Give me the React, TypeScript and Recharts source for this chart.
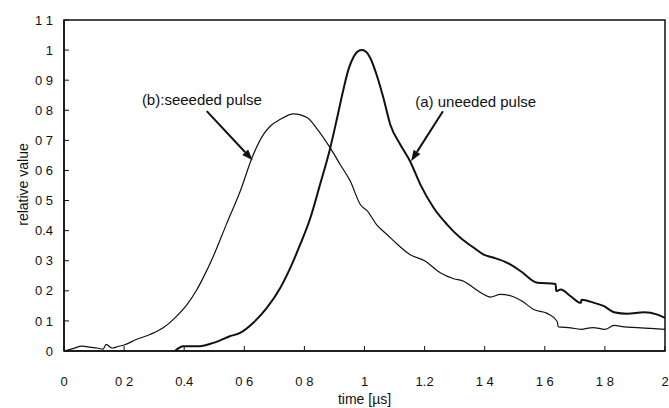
import React from 'react'
import { LineChart, Line, XAxis, YAxis, ReferenceArea, ReferenceLine, ReferenceDot } from 'recharts'

// (b) seeded pulse, thin trace
const seededTime = [0, 0.03, 0.06, 0.09, 0.11, 0.13, 0.14, 0.16, 0.18, 0.2, 0.24, 0.286, 0.33, 0.375, 0.41, 0.44, 0.463, 0.497, 0.54, 0.586, 0.63, 0.664, 0.686, 0.72, 0.764, 0.81, 0.84, 0.886, 0.919, 0.953, 0.986, 1.01, 1.04, 1.075, 1.11, 1.152, 1.2, 1.252, 1.297, 1.33, 1.363, 1.397, 1.419, 1.452, 1.491, 1.525, 1.563, 1.608, 1.641, 1.645, 1.686, 1.72, 1.76, 1.8, 1.83, 1.864, 1.908, 1.952, 2.0]
const seededValue = [0, 0.008, 0.016, 0.012, 0.01, 0.006, 0.022, 0.01, 0.015, 0.02, 0.038, 0.055, 0.077, 0.116, 0.155, 0.2, 0.243, 0.315, 0.42, 0.53, 0.653, 0.72, 0.747, 0.77, 0.788, 0.775, 0.741, 0.675, 0.62, 0.564, 0.487, 0.465, 0.42, 0.387, 0.354, 0.32, 0.3, 0.26, 0.24, 0.232, 0.21, 0.188, 0.179, 0.188, 0.182, 0.165, 0.138, 0.125, 0.099, 0.08, 0.077, 0.072, 0.078, 0.072, 0.085, 0.08, 0.078, 0.075, 0.072]

// (a) unseeded pulse, thick trace
const unseededTime = [0.369, 0.397, 0.452, 0.497, 0.552, 0.586, 0.63, 0.675, 0.72, 0.753, 0.786, 0.82, 0.852, 0.886, 0.909, 0.93, 0.948, 0.964, 0.978, 0.992, 1.006, 1.02, 1.04, 1.063, 1.086, 1.119, 1.152, 1.186, 1.23, 1.275, 1.319, 1.364, 1.397, 1.43, 1.475, 1.52, 1.575, 1.636, 1.638, 1.653, 1.686, 1.72, 1.722, 1.764, 1.797, 1.83, 1.875, 1.93, 1.975, 2.0]
const unseededValue = [0, 0.016, 0.016, 0.027, 0.049, 0.06, 0.094, 0.143, 0.21, 0.276, 0.354, 0.443, 0.553, 0.675, 0.775, 0.87, 0.94, 0.978, 0.996, 1.0, 0.994, 0.972, 0.919, 0.841, 0.752, 0.686, 0.63, 0.553, 0.476, 0.42, 0.376, 0.343, 0.32, 0.31, 0.293, 0.265, 0.227, 0.223, 0.199, 0.204, 0.182, 0.16, 0.17, 0.16, 0.149, 0.129, 0.124, 0.129, 0.121, 0.11]

const xTicks = [0, 0.2, 0.4, 0.6, 0.8, 1, 1.2, 1.4, 1.6, 1.8, 2]
const xTickLabels = ['0', '0 2', '0.4', '0 6', '0 8', '1', '1.2', '1 4', '1 6', '1 8', '2']
const yTicks = [0, 0.1, 0.2, 0.3, 0.4, 0.5, 0.6, 0.7, 0.8, 0.9, 1, 1.1]
const yTickLabels = ['0', '0 1', '0 2', '0 3', '0.4', '0 5', '0 6', '0 7', '0 8', '0 9', '1', '1 1']

// annotations: text position and arrow from/to, in data units
const noteTexts = ['(b):seeeded pulse', '(a) uneeded pulse']
const noteAt = [[0.459, 0.835], [1.37, 0.83]]
const arrowFrom = [[0.475, 0.797], [1.261, 0.797]]
const arrowTo = [[0.628, 0.634], [1.155, 0.631]]

const seeded = seededTime.map((t, i) => ({ t, v: seededValue[i] }))
const unseeded = unseededTime.map((t, i) => ({ t, v: unseededValue[i] }))

const ink = '#111'
// no serif face renders in the sandbox, so use Liberation Sans sized to the original widths
const font = 'Liberation Sans, Arial, sans-serif'

const Arrow = (props: any) => {
  const { x1, y1, x2, y2 } = props
  const ang = Math.atan2(y2 - y1, x2 - x1)
  const len = 11
  const w = 4
  const bx = x2 - len * Math.cos(ang)
  const by = y2 - len * Math.sin(ang)
  const px = -Math.sin(ang) * w
  const py = Math.cos(ang) * w
  return (
    <g>
      <line x1={x1} y1={y1} x2={bx} y2={by} stroke={ink} strokeWidth={2} />
      <polygon points={`${x2},${y2} ${bx + px},${by + py} ${bx - px},${by - py}`} fill={ink} />
    </g>
  )
}

export default function App() {
  return (
    <div style={{ position: 'absolute', left: 0, top: 0, background: '#fff', fontFamily: font }}>
      <LineChart width={669} height={408} margin={{ top: 20, right: 4, left: 0, bottom: 0 }} style={{ fontFamily: font }}>
        <XAxis
          dataKey="t"
          type="number"
          domain={[0, 2]}
          ticks={xTicks}
          interval={0}
          allowDataOverflow
          tickFormatter={(v: number, i: number) => xTickLabels[i]}
          tickSize={-5}
          tickMargin={31}
          height={57}
          axisLine={{ stroke: ink, strokeWidth: 1.5 }}
          tickLine={{ stroke: ink }}
          tick={{ fill: ink, fontSize: 13, style: { fontFamily: font } }}
          label={{
            content: ({ viewBox }: any) => (
              <text x={viewBox.x + viewBox.width / 2} y={404} textAnchor="middle" fill={ink} fontSize={14} style={{ fontFamily: font }}>
                time [µs]
              </text>
            ),
          }}
        />
        <YAxis
          type="number"
          domain={[0, 1.1]}
          ticks={yTicks}
          interval={0}
          allowDataOverflow
          tickFormatter={(v: number, i: number) => yTickLabels[i]}
          tickSize={-5}
          tickMargin={16}
          width={64}
          axisLine={{ stroke: ink, strokeWidth: 1.5 }}
          tickLine={{ stroke: ink }}
          tick={{ fill: ink, fontSize: 13, style: { fontFamily: font } }}
          label={{
            content: ({ viewBox }: any) => {
              const cx = viewBox.x + 23
              const cy = viewBox.y + viewBox.height / 2 - 1
              return (
                <text x={cx} y={cy} transform={`rotate(-90 ${cx} ${cy})`} textAnchor="middle" dominantBaseline="central" fill={ink} fontSize={14} style={{ fontFamily: font }}>
                  relative value
                </text>
              )
            },
          }}
        />
        <ReferenceArea x1={0} x2={2} y1={0} y2={1.1} fill="none" stroke={ink} strokeWidth={1.5} fillOpacity={0} />
        <Line data={seeded} dataKey="v" type="monotone" stroke={ink} strokeWidth={1.2} dot={false} isAnimationActive={false} />
        <Line data={unseeded} dataKey="v" type="monotone" stroke={ink} strokeWidth={2} dot={false} isAnimationActive={false} />
        {arrowFrom.map((f, i) => (
          <ReferenceLine
            key={'arrow' + i}
            segment={[{ x: f[0], y: f[1] }, { x: arrowTo[i][0], y: arrowTo[i][1] }]}
            shape={Arrow}
          />
        ))}
        {noteAt.map((p, i) => (
          <ReferenceDot
            key={'note' + i}
            x={p[0]}
            y={p[1]}
            r={0}
            shape={(s: any) => (
              <text x={s.cx} y={s.cy} textAnchor="middle" dominantBaseline="central" fill={ink} fontSize={15} style={{ fontFamily: font }}>
                {noteTexts[i]}
              </text>
            )}
          />
        ))}
      </LineChart>
    </div>
  )
}
